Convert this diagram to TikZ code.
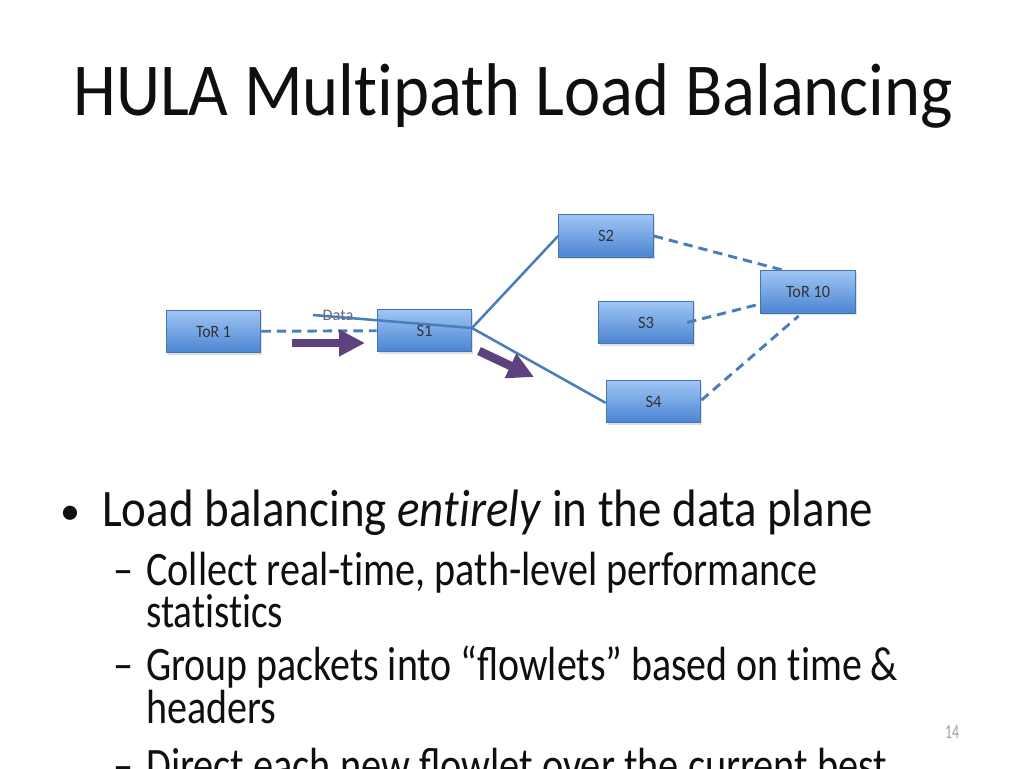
\documentclass[tikz,border=0pt]{standalone}
\usepackage{fontspec}
\setmainfont{Carlito}
\usetikzlibrary{arrows.meta,shadows}
\definecolor{boxtop}{RGB}{160,198,244}
\definecolor{boxbot}{RGB}{74,132,210}
\definecolor{boxline}{RGB}{66,116,182}
\definecolor{linkc}{RGB}{74,126,187}
\definecolor{flowc}{RGB}{94,66,128}
\definecolor{txt}{RGB}{15,15,15}
\definecolor{pgnum}{RGB}{160,160,160}
\definecolor{datac}{RGB}{110,100,115}
\newcommand{\hfit}[2]{\resizebox{#1}{\height}{#2}}
\newcommand{\nti}{t\kern0pt i}
\begin{document}
\begin{tikzpicture}[x=0.75pt,y=-0.75pt,
  sw/.style={draw=boxline, line width=0.9pt, top color=boxtop, bottom color=boxbot,
    minimum width=71pt, minimum height=32pt, inner sep=0pt,
    font=\fontsize{13}{15}\selectfont, text=black!80,
    drop shadow={opacity=0.25, shadow xshift=1pt, shadow yshift=-1.5pt}},
  link/.style={draw=linkc, line width=1.9pt},
  dlink/.style={draw=linkc, line width=2.2pt, dash pattern=on 7pt off 4.5pt},
  flow/.style={draw=flowc, line width=6.5pt, -{Triangle[length=19.5pt,width=19pt]}},
  ttl/.style={anchor=base west, inner sep=0pt, text=txt, font=\fontsize{56}{60}\selectfont},
  lvone/.style={anchor=base west, inner sep=0pt, text=txt, font=\fontsize{39.5}{44}\selectfont},
  lvtwo/.style={anchor=base west, inner sep=0pt, text=txt, font=\fontsize{36}{40}\selectfont},
]
\useasboundingbox (0,0) rectangle (1024,768);
\clip (0,0) rectangle (1024,768);
\fill[white] (0,0) rectangle (1024,768);

% title
\node[ttl] (title) at (73,115) {\hfit{660pt}{HULA Mul\nti path Load Balancing}};

% network
\node[sw] (tor1) at (213.5,331.5) {\hfit{26pt}{ToR 1}};
\node[sw] (s1) at (424.5,330.5) {\hfit{12pt}{S1}};
\node[sw] (s2) at (606,236) {\hfit{12pt}{S2}};
\node[sw] (s3) at (646,322.5) {\hfit{12pt}{S3}};
\node[sw] (s4) at (653.5,401.5) {\hfit{12pt}{S4}};
\node[sw] (tor10) at (808,292) {\hfit{33pt}{ToR 10}};

\node[inner sep=0pt, text=datac, font=\fontsize{12}{14}\selectfont] (data) at (338,315) {\hfit{23pt}{Data}};

\coordinate (dstart) at (313,315);
\coordinate (hub) at (472,328);
\draw[dlink] (tor1) -- (s1);
\draw[link] (dstart) -- (hub);
\draw[link] (hub) -- (s2.west);
\draw[link] (hub) -- ([yshift=-1pt]s4.west);

\draw[dlink] (s2.east) -- ([xshift=-19pt]tor10.north);
\draw[dlink] ([xshift=-5pt]s3.east) -- ([yshift=-9pt]tor10.west);
\draw[dlink] ([yshift=1pt]s4.east) -- ([xshift=-7pt,yshift=-1.5pt]tor10.south);

\coordinate (f1a) at (292,343);
\coordinate (f1b) at (365,343);
\draw[flow] (f1a) -- (f1b);
\coordinate (f2a) at (479,351);
\coordinate (f2b) at (534,377);
\draw[flow] (f2a) -- (f2b);

% bullets
\node[anchor=base, inner sep=0pt, text=txt, font=\fontsize{30}{34}\selectfont] (b1) at (70,524) {•};
\node[lvone] (l1) at (102,526) {\hfit{578.25pt}{Load balancing \textit{en\nti rely} in the data plane}};

\node[lvtwo] (d1) at (113,585) {\hfit{15pt}{–}};
\node[lvtwo] (l2) at (146,585) {\hfit{503.25pt}{Collect real-\nti me, path-level performance}};
\node[lvtwo] (l2b) at (146,627) {\hfit{102.75pt}{sta\nti s\nti cs}};

\node[lvtwo] (d2) at (113,680) {\hfit{15pt}{–}};
\node[lvtwo] (l3) at (146,680) {\hfit{564pt}{Group packets into “flowlets” based on \nti me \&}};
\node[lvtwo] (l3b) at (146,723) {\hfit{97.5pt}{headers}};

\node[lvtwo] (d3) at (113,781) {\hfit{15pt}{–}};
\node[lvtwo] (l4) at (146,781) {\hfit{555.75pt}{Direct each new flowlet over the current best}};

\node[inner sep=0pt, text=pgnum, font=\fontsize{15}{17}\selectfont] (pg) at (952,732) {\hfit{10.5pt}{14}};
\end{tikzpicture}
\end{document}
